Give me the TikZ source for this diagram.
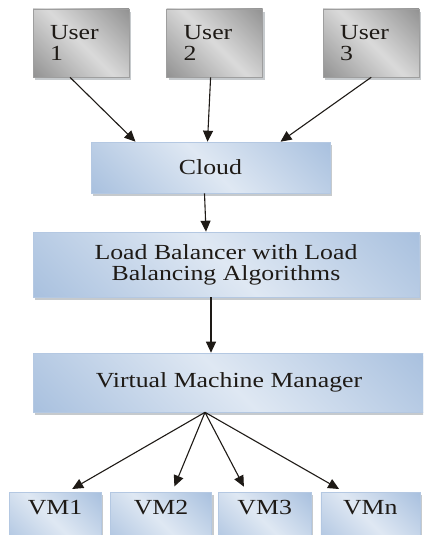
\documentclass[tikz,border=0pt]{standalone}
\usepackage{fontspec}
\setmainfont{Liberation Serif}[FakeStretch=1.2]
\usepackage{tikz}
\usetikzlibrary{arrows.meta,positioning,shadows}
\definecolor{ink}{HTML}{1E1A16}
\definecolor{bluedark}{HTML}{92B0D6}
\definecolor{bluelight}{HTML}{DFE8F3}
\definecolor{blueedge}{HTML}{B4C8E2}
\definecolor{greydark}{HTML}{747474}
\definecolor{greylight}{HTML}{DADADA}
\definecolor{shade}{HTML}{8E959C}
\pgfdeclarehorizontalshading{blueshade}{100bp}{color(0bp)=(bluedark); color(50bp)=(bluelight); color(100bp)=(bluedark)}
\pgfdeclarehorizontalshading{greyshade}{100bp}{color(0bp)=(greydark); color(50bp)=(greylight); color(100bp)=(greydark)}
\tikzset{
  userbox/.style={draw=greydark!70, line width=0.6pt, shading=greyshade, shading angle=45,
    drop shadow={shadow xshift=2pt, shadow yshift=-3pt, fill=shade},
    minimum height=68pt, text width=62pt, inner xsep=17pt, align=left, text=ink},
  stagebox/.style={draw=blueedge, line width=0.6pt, shading=blueshade, shading angle=45,
    drop shadow={shadow xshift=2pt, shadow yshift=-3pt, fill=shade},
    align=center, text=ink, inner sep=0pt},
  vmbox/.style={stagebox, anchor=north, text height=14pt, text depth=30pt, inner ysep=8pt},
  arr/.style={-{Triangle[length=11pt,width=10pt]}, line width=1.1pt, draw=ink}
}

\begin{document}
\begin{tikzpicture}[x=1pt, y=-1pt, font=\fontsize{21.5}{21}\selectfont]
  \useasboundingbox (0,0) rectangle (423,535);
  \clip (0,0) rectangle (423,535);

  % users on top
  \node[userbox] (u1) at (81,43) {User\\1};
  \node[userbox, right=37pt of u1] (u2) {User\\2};
  \node[userbox, right=60pt of u2] (u3) {User\\3};

  % main column
  \node[stagebox, minimum width=239pt, minimum height=51pt] (cloud) at (210.5,167.5) {Cloud};
  \node[stagebox, minimum width=386pt, minimum height=65pt] (lb) at (226,264.5)
    {Load Balancer with Load\\Balancing Algorithms};
  \node[stagebox, minimum width=392pt, minimum height=59pt] (vmm) at (229,382.5)
    {Virtual Machine Manager};

  % virtual machines
  \node[vmbox, minimum width=92pt] (vm1) at (55,492) {VM1};
  \node[vmbox, minimum width=101pt, right=9pt of vm1.north east, anchor=north west] (vm2) {VM2};
  \node[vmbox, minimum width=93pt, right=6pt of vm2.north east, anchor=north west] (vm3) {VM3};
  \node[vmbox, minimum width=99pt, right=9pt of vm3.north east, anchor=north west] (vmn) {VMn};

  \draw[arr] ([xshift=-11pt]u1.south) -- ([xshift=-75pt]cloud.north);
  \draw[arr] ([xshift=-4pt]u2.south) -- ([xshift=-3pt]cloud.north);
  \draw[arr] (u3.south) -- ([xshift=70pt]cloud.north);
  \draw[arr] ([xshift=-6pt]cloud.south) -- ([xshift=-20pt]lb.north);
  \draw[arr] ([xshift=-15pt]lb.south) -- ([xshift=-18pt]vmm.north);

  \coordinate (fan) at ([xshift=-24pt]vmm.south);
  \draw[arr, shorten >=6pt] (fan) -- ([xshift=12pt]vm1.north);
  \draw[arr, shorten >=6pt] (fan) -- ([xshift=11pt]vm2.north);
  \draw[arr, shorten >=6pt] (fan) -- ([xshift=-18pt]vm3.north);
  \draw[arr, shorten >=6pt] (fan) -- ([xshift=-26pt]vmn.north);
\end{tikzpicture}
\end{document}
